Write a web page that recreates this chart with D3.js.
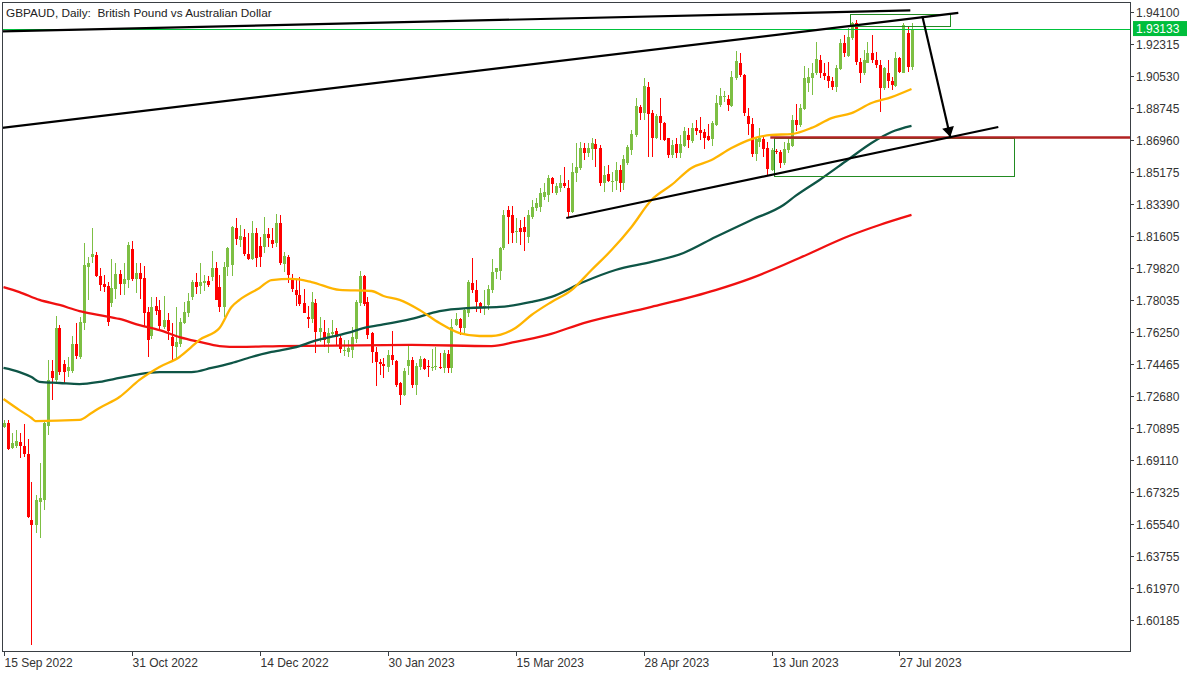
<!DOCTYPE html>
<html><head><meta charset="utf-8">
<script src="https://cdn.jsdelivr.net/npm/d3@7"></script>
<style>
html,body{margin:0;padding:0;background:#fff;}
svg{display:block;}
</style></head>
<body>
<svg id="chart" width="1200" height="675"></svg>
<script>
// ---------- DATA ----------
const opens=[1.7097,1.7119,1.6976,1.6989,1.7011,1.6989,1.6944,1.6576,1.6548,1.6679,1.6688,1.7100,1.7407,1.7357,1.7648,1.7446,1.7409,1.7409,1.7557,1.7487,
1.7676,1.7988,1.8040,1.8053,1.7936,1.7892,1.7881,1.7788,1.7862,1.7948,1.7892,1.7914,1.8085,1.7922,1.7951,1.7923,1.7738,1.7602,1.7769,1.7747,
1.7650,1.7691,1.7595,1.7542,1.7557,1.7676,1.7728,1.7821,1.7903,1.7881,1.7899,1.7910,1.7929,1.7979,1.7873,1.7762,1.7988,1.7998,1.8202,1.8137,
1.8156,1.8059,1.8029,1.8174,1.8104,1.8100,1.8170,1.8137,1.8118,1.8230,1.8003,1.8040,1.7914,1.7858,1.7830,1.7784,1.7710,1.7699,1.7784,1.7626,
1.7626,1.7561,1.7613,1.7630,1.7589,1.7520,1.7515,1.7524,1.7583,1.7784,1.7936,1.7793,1.7617,1.7515,1.7459,1.7446,1.7431,1.7496,1.7464,1.7338,
1.7273,1.7435,1.7468,1.7329,1.7431,1.7472,1.7437,1.7422,1.7427,1.7431,1.7422,1.7502,1.7422,1.7663,1.7695,1.7645,1.7728,1.7896,1.7858,1.7788,
1.7756,1.7775,1.7858,1.7961,1.7966,1.8091,1.8304,1.8276,1.8183,1.8202,1.8208,1.8156,1.8267,1.8314,1.8323,1.8379,1.8388,1.8481,1.8398,1.8426,
1.8457,1.8426,1.8296,1.8513,1.8537,1.8649,1.8624,1.8643,1.8673,1.8649,1.8457,1.8506,1.8463,1.8468,1.8528,1.8454,1.8569,1.8639,1.8723,1.8877,
1.8844,1.8992,1.8843,1.8708,1.8828,1.8787,1.8704,1.8611,1.8672,1.8620,1.8661,1.8722,1.8691,1.8760,1.8750,1.8741,1.8717,1.8698,1.8778,1.8890,
1.8936,1.8921,1.8884,1.9038,1.9126,1.9058,1.8829,1.8785,1.8617,1.8686,1.8699,1.8649,1.8528,1.8634,1.8630,1.8569,1.8640,1.8662,1.8807,1.8779,
1.8866,1.9015,1.9039,1.9067,1.9141,1.9067,1.9052,1.9021,1.8993,1.9089,1.9234,1.9164,1.9262,1.9346,1.9132,1.9067,1.9126,1.9178,1.9138,1.9113,
1.8983,1.9071,1.9021,1.8996,1.9154,1.9071,1.9294,1.9100];
const highs=[1.7134,1.7134,1.7059,1.7078,1.7059,1.7111,1.7026,1.6790,1.6716,1.6892,1.7124,1.7468,1.7468,1.7713,1.7663,1.7468,1.7487,1.7602,1.7673,1.7710,
1.8118,1.8044,1.8202,1.8072,1.7979,1.7942,1.7905,1.8029,1.8007,1.7970,1.8011,1.8128,1.8133,1.8007,1.8011,1.7992,1.7765,1.7821,1.7821,1.7803,
1.7825,1.7728,1.7676,1.7762,1.7700,1.7793,1.7840,1.7914,1.7955,1.8011,1.7942,1.7936,1.8078,1.8016,1.7942,1.8016,1.8100,1.8215,1.8258,1.8221,
1.8197,1.8174,1.8245,1.8202,1.8156,1.8263,1.8202,1.8202,1.8282,1.8276,1.8072,1.8053,1.7948,1.7914,1.7933,1.7862,1.7769,1.7849,1.7806,1.7706,
1.7691,1.7645,1.7691,1.7645,1.7602,1.7580,1.7580,1.7654,1.7803,1.7966,1.7940,1.7821,1.7626,1.7542,1.7472,1.7477,1.7524,1.7632,1.7468,1.7347,
1.7422,1.7557,1.7487,1.7453,1.7490,1.7477,1.7468,1.7528,1.7542,1.7505,1.7524,1.7524,1.7695,1.7728,1.7700,1.7756,1.7914,1.8035,1.7914,1.7793,
1.7858,1.7886,1.8029,1.7979,1.8100,1.8304,1.8327,1.8327,1.8258,1.8249,1.8267,1.8304,1.8360,1.8370,1.8426,1.8454,1.8500,1.8491,1.8457,1.8500,
1.8546,1.8472,1.8565,1.8680,1.8686,1.8676,1.8680,1.8704,1.8699,1.8667,1.8550,1.8556,1.8519,1.8574,1.8556,1.8611,1.8667,1.8751,1.8927,1.8890,
1.9039,1.9020,1.8862,1.8840,1.8927,1.8797,1.8704,1.8695,1.8704,1.8722,1.8769,1.8760,1.8787,1.8806,1.8821,1.8754,1.8784,1.8802,1.8945,1.8983,
1.8970,1.8945,1.9081,1.9193,1.9178,1.9060,1.8872,1.8816,1.8705,1.8760,1.8714,1.8686,1.8649,1.8643,1.8640,1.8681,1.8705,1.8835,1.8896,1.8896,
1.9108,1.9095,1.9123,1.9243,1.9169,1.9123,1.9132,1.9048,1.9113,1.9256,1.9281,1.9318,1.9355,1.9364,1.9151,1.9197,1.9243,1.9281,1.9188,1.9141,
1.9104,1.9141,1.9048,1.9188,1.9160,1.9346,1.9323,1.9346];
const lows=[1.7087,1.6967,1.6970,1.6976,1.6920,1.6929,1.6586,1.5880,1.6502,1.6474,1.6632,1.7050,1.7245,1.7342,1.7385,1.7342,1.7375,1.7394,1.7472,1.7472,
1.7635,1.7803,1.8007,1.7929,1.7855,1.7849,1.7658,1.7765,1.7806,1.7830,1.7830,1.7868,1.7910,1.7840,1.7810,1.7658,1.7483,1.7583,1.7719,1.7635,
1.7639,1.7580,1.7464,1.7468,1.7542,1.7669,1.7710,1.7803,1.7836,1.7836,1.7855,1.7873,1.7910,1.7803,1.7738,1.7706,1.7936,1.7936,1.8109,1.8100,
1.8048,1.8026,1.8026,1.7988,1.7988,1.8066,1.8100,1.8091,1.8100,1.7998,1.7961,1.7896,1.7849,1.7769,1.7769,1.7728,1.7648,1.7676,1.7505,1.7570,
1.7542,1.7505,1.7595,1.7546,1.7505,1.7492,1.7487,1.7477,1.7565,1.7769,1.7769,1.7583,1.7453,1.7323,1.7385,1.7366,1.7403,1.7440,1.7320,1.7217,
1.7267,1.7385,1.7310,1.7273,1.7412,1.7412,1.7372,1.7409,1.7412,1.7416,1.7394,1.7398,1.7398,1.7658,1.7608,1.7621,1.7710,1.7843,1.7738,1.7728,
1.7719,1.7747,1.7840,1.7918,1.7914,1.8081,1.8115,1.8118,1.8118,1.8109,1.8078,1.8122,1.8252,1.8301,1.8296,1.8361,1.8351,1.8398,1.8388,1.8407,
1.8426,1.8264,1.8286,1.8463,1.8528,1.8584,1.8602,1.8584,1.8543,1.8439,1.8407,1.8463,1.8407,1.8416,1.8407,1.8416,1.8556,1.8611,1.8714,1.8807,
1.8807,1.8602,1.8602,1.8698,1.8695,1.8691,1.8592,1.8592,1.8592,1.8592,1.8657,1.8648,1.8676,1.8722,1.8695,1.8643,1.8691,1.8661,1.8773,1.8880,
1.8908,1.8858,1.8880,1.9029,1.9044,1.8829,1.8723,1.8602,1.8575,1.8658,1.8602,1.8500,1.8524,1.8617,1.8537,1.8556,1.8621,1.8658,1.8747,1.8770,
1.8863,1.8965,1.8946,1.9058,1.9039,1.9030,1.8983,1.8974,1.8965,1.9086,1.9160,1.9160,1.9253,1.9113,1.9015,1.9058,1.9123,1.9123,1.9095,1.8853,
1.8974,1.8983,1.8974,1.8989,1.9067,1.9067,1.9076,1.9086];
const closes=[1.7119,1.6970,1.7004,1.7019,1.6989,1.6944,1.6595,1.6548,1.6688,1.6697,1.7115,1.7357,1.7370,1.7648,1.7403,1.7403,1.7431,1.7557,1.7490,1.7680,
1.7998,1.8011,1.8059,1.7936,1.7886,1.7877,1.7682,1.7868,1.7948,1.7892,1.7918,1.8109,1.7918,1.7955,1.7922,1.7732,1.7580,1.7765,1.7743,1.7658,
1.7691,1.7632,1.7546,1.7570,1.7682,1.7738,1.7799,1.7905,1.7873,1.7905,1.7910,1.7886,1.7979,1.7803,1.7762,1.7988,1.8091,1.8211,1.8141,1.8159,
1.8059,1.8029,1.8174,1.8035,1.8040,1.8170,1.8146,1.8115,1.8230,1.8007,1.8048,1.7942,1.7862,1.7830,1.7780,1.7732,1.7699,1.7793,1.7626,1.7645,
1.7580,1.7621,1.7626,1.7598,1.7528,1.7524,1.7533,1.7595,1.7793,1.7936,1.7780,1.7608,1.7515,1.7459,1.7446,1.7435,1.7496,1.7468,1.7329,1.7273,
1.7409,1.7468,1.7329,1.7437,1.7472,1.7416,1.7427,1.7431,1.7437,1.7422,1.7505,1.7422,1.7654,1.7695,1.7645,1.7747,1.7905,1.7858,1.7793,1.7756,
1.7769,1.7862,1.7961,1.7979,1.8091,1.8276,1.8267,1.8174,1.8189,1.8183,1.8180,1.8276,1.8319,1.8346,1.8398,1.8407,1.8481,1.8450,1.8439,1.8454,
1.8439,1.8296,1.8519,1.8546,1.8649,1.8624,1.8649,1.8680,1.8643,1.8457,1.8500,1.8468,1.8468,1.8528,1.8457,1.8587,1.8654,1.8729,1.8885,1.8847,
1.8996,1.8840,1.8704,1.8828,1.8791,1.8695,1.8611,1.8667,1.8624,1.8672,1.8747,1.8695,1.8760,1.8747,1.8735,1.8704,1.8695,1.8791,1.8903,1.8940,
1.8940,1.8890,1.9048,1.9137,1.9057,1.8848,1.8785,1.8617,1.8699,1.8705,1.8643,1.8532,1.8640,1.8627,1.8569,1.8643,1.8677,1.8807,1.8779,1.8872,
1.9039,1.9048,1.9067,1.9145,1.9067,1.9052,1.9021,1.8993,1.9095,1.9234,1.9182,1.9271,1.9346,1.9132,1.9067,1.9141,1.9182,1.9138,1.9113,1.8983,
1.9095,1.9021,1.9002,1.9151,1.9076,1.9336,1.9104,1.9313];

// moving averages (bar index, value)
const maFastIdx=[0,4,7,8,19,22,24,29,34,39,44,47,49,54,57,59,64,67,72,77,84,92,95,99,104,109,114,119,122,128,132,137,142,147,152,157,162,167,172,177,182,187,192,197,202,207,212,217,222,227];
const maFast=[1.7251,1.7189,1.7145,1.7128,1.7134,1.7173,1.7201,1.7262,1.7357,1.7429,1.7485,1.7541,1.7580,1.7647,1.7764,1.7803,1.7870,1.7914,1.7920,1.7903,1.7859,1.7853,1.7825,1.7803,1.7747,1.7674,1.7618,1.7602,1.7602,1.7647,1.7719,1.7792,1.7858,1.7970,1.8081,1.8210,1.8360,1.8444,1.8539,1.8583,1.8650,1.8700,1.8723,1.8728,1.8762,1.8817,1.8845,1.8901,1.8934,1.8979];
const maMidIdx=[0,4,7,9,14,19,24,29,34,39,47,52,57,62,67,74,77,86,91,94,102,109,116,124,132,137,145,153,162,170,178,187,195,198,204,211,217,222,227];
const maMid=[1.7424,1.7401,1.7373,1.7346,1.7340,1.7334,1.7346,1.7368,1.7390,1.7401,1.7401,1.7424,1.7451,1.7485,1.7513,1.7546,1.7569,1.7619,1.7652,1.7663,1.7697,1.7741,1.7758,1.7764,1.7792,1.7820,1.7903,1.7970,1.8015,1.8065,1.8154,1.8249,1.8332,1.8383,1.8472,1.8583,1.8678,1.8739,1.8773];
const maSlowIdx=[0,4,9,14,19,24,29,34,39,44,49,54,59,69,102,122,128,136,145,162,178,187,195,199,212,219,227];
const maSlow=[1.7875,1.7847,1.7803,1.7775,1.7741,1.7719,1.7697,1.7663,1.7635,1.7596,1.7569,1.7546,1.7541,1.7546,1.7552,1.7546,1.7569,1.7608,1.7674,1.7764,1.7858,1.7925,1.7998,1.8037,1.8165,1.8221,1.8277];

// axis labels
const dateTickIdx=[0,32,64,96,128,160,192,224];
const dateTickLabels=["15 Sep 2022","31 Oct 2022","14 Dec 2022","30 Jan 2023","15 Mar 2023","28 Apr 2023","13 Jun 2023","27 Jul 2023"];
const priceTickLabels=["1.94100","1.92315","1.90530","1.88745","1.86960","1.85175","1.83390","1.81605","1.79820","1.78035","1.76250","1.74465","1.72680","1.70895","1.69110","1.67325","1.65540","1.63755","1.61970","1.60185"];
const lastPrice=1.93133;
const titleText="GBPAUD, Daily:  British Pound vs Australian Dollar";

// drawn analysis objects (bar index, price)
const channelTop=[[-0.4,1.9300],[226.7,1.9417]];
const channelMid=[[-0.4,1.8762],[238.7,1.9403]];
const supportLine=[[140.7,1.8260],[248.7,1.8767]];
const arrowLine=[[229.7,1.9386],[236.7,1.8711]];
const levelStart=191.7, levelPrice=1.8709;
const zoneSmall={x0:211.7,x1:236.7,p0:1.9330,p1:1.9397};
const zoneLarge={x0:192.7,x1:252.7,p0:1.8494,p1:1.8706};

// ---------- LAYOUT ----------
const L=2,R=1130,T=1.5,B=651;
const svg=d3.select("#chart");
const font="'Liberation Sans', Arial, sans-serif";
const x=d3.scaleLinear().domain([0,281.625]).range([3.5,1130]);
const y=d3.scaleLinear().domain([1.58459,1.94641]).range([B,2]);

svg.append("rect").attr("width",1200).attr("height",675).attr("fill","#fff");
svg.append("defs").append("clipPath").attr("id","plot")
  .append("rect").attr("x",L).attr("y",T).attr("width",R-L).attr("height",B-T);
const g=svg.append("g").attr("clip-path","url(#plot)");

// candles
const bars=d3.range(opens.length).map(i=>({i,o:opens[i],h:highs[i],l:lows[i],c:closes[i]}));
const bull="#7DBF44", bear="#FF0000";
const cg=g.append("g").attr("shape-rendering","crispEdges");
cg.selectAll("rect.w").data(bars).join("rect").attr("class","w")
  .attr("x",d=>Math.round(x(d.i)))
  .attr("width",1)
  .attr("y",d=>Math.round(y(d.h)))
  .attr("height",d=>Math.max(1,Math.round(y(d.l))-Math.round(y(d.h))))
  .attr("fill",d=>d.c>=d.o?bull:bear);
cg.selectAll("rect.b").data(bars).join("rect").attr("class","b")
  .attr("x",d=>Math.round(x(d.i))-1)
  .attr("width",3)
  .attr("y",d=>Math.round(y(Math.max(d.o,d.c))))
  .attr("height",d=>Math.max(1,Math.round(y(Math.min(d.o,d.c)))-Math.round(y(Math.max(d.o,d.c)))))
  .attr("fill",d=>d.c>=d.o?bull:bear);

// moving averages
const maLine=d3.line().x(d=>x(d[0])).y(d=>y(d[1])).curve(d3.curveMonotoneX);
[[maSlowIdx,maSlow,"#F01010"],[maMidIdx,maMid,"#0E5546"],[maFastIdx,maFast,"#FFB400"]].forEach(([ix,v,col])=>{
  g.append("path").datum(ix.map((k,j)=>[k,v[j]]))
    .attr("d",maLine).attr("fill","none").attr("stroke",col).attr("stroke-width",2.3)
    .attr("stroke-linejoin","round");
});

// current price line
g.append("line").attr("x1",L).attr("x2",R).attr("y1",Math.round(y(lastPrice))+0.5).attr("y2",Math.round(y(lastPrice))+0.5)
  .attr("stroke","#00C23C").attr("stroke-width",1);

// rectangles
[zoneSmall,zoneLarge].forEach(z=>{
  g.append("rect").attr("x",Math.round(x(z.x0))+0.5).attr("y",Math.round(y(z.p1))+0.5)
    .attr("width",Math.round(x(z.x1)-x(z.x0))).attr("height",Math.round(y(z.p0)-y(z.p1)))
    .attr("fill","none").attr("stroke","#228B22").attr("stroke-width",1);
});

// horizontal level
g.append("line").attr("x1",x(levelStart)).attr("x2",R).attr("y1",y(levelPrice)).attr("y2",y(levelPrice))
  .attr("stroke","#B22222").attr("stroke-width",2.5);

// trend lines
const tl=d3.line().x(d=>x(d[0])).y(d=>y(d[1]));
[channelTop,channelMid,supportLine,arrowLine].forEach(p=>{
  g.append("path").attr("d",tl(p)).attr("fill","none").attr("stroke","#000").attr("stroke-width",2.2);
});
// arrow head
{
  const x1=x(arrowLine[0][0]),y1=y(arrowLine[0][1]),x2=x(arrowLine[1][0]),y2=y(arrowLine[1][1]);
  const len=Math.hypot(x2-x1,y2-y1),ux=(x2-x1)/len,uy=(y2-y1)/len;
  const bx=x2-ux*10,by=y2-uy*10,px=-uy,py=ux;
  g.append("path").attr("d",`M${x2},${y2}L${bx+px*6},${by+py*6}L${bx-px*6},${by-py*6}Z`).attr("fill","#000");
}

// frame
const axisCol="#3A3F44";
svg.append("rect").attr("x",L+0.5).attr("y",T+0.5).attr("width",R-L).attr("height",B-T-0.5)
  .attr("fill","none").attr("stroke",axisCol).attr("stroke-width",1).attr("shape-rendering","crispEdges");

// price axis
const pt=svg.append("g");
priceTickLabels.forEach(s=>{
  const yy=Math.round(y(+s))+0.5;
  pt.append("line").attr("x1",R).attr("x2",R+4).attr("y1",yy).attr("y2",yy).attr("stroke",axisCol).attr("shape-rendering","crispEdges");
  pt.append("text").attr("x",R+6).attr("y",yy).attr("dy","0.36em").attr("font-family",font).attr("font-size",12)
    .attr("fill","#333").text(s);
});
// last price tag
{
  const yy=y(lastPrice);
  pt.append("rect").attr("x",R+3).attr("y",yy-8).attr("width",54).attr("height",15).attr("fill","#00BE3C");
  pt.append("text").attr("x",R+6).attr("y",yy).attr("dy","0.36em").attr("font-family",font).attr("font-size",12)
    .attr("fill","#fff").text(lastPrice.toFixed(5));
}

// date axis
const dt=svg.append("g");
dateTickIdx.forEach((k,j)=>{
  const xx=Math.round(x(k))+0.5;
  dt.append("line").attr("x1",xx).attr("x2",xx).attr("y1",B).attr("y2",B+5).attr("stroke",axisCol).attr("shape-rendering","crispEdges");
  dt.append("text").attr("x",xx).attr("y",667).attr("font-family",font).attr("font-size",12)
    .attr("fill","#333").text(dateTickLabels[j]);
});

// title
const tt=svg.append("text").attr("x",6).attr("y",17).attr("font-family",font).attr("font-size",12)
  .attr("fill","#222").attr("xml:space","preserve").style("white-space","pre").text(titleText);
const w=tt.node().getComputedTextLength();
if(w>266) tt.attr("font-size",12*266/w);
</script>
</body></html>
